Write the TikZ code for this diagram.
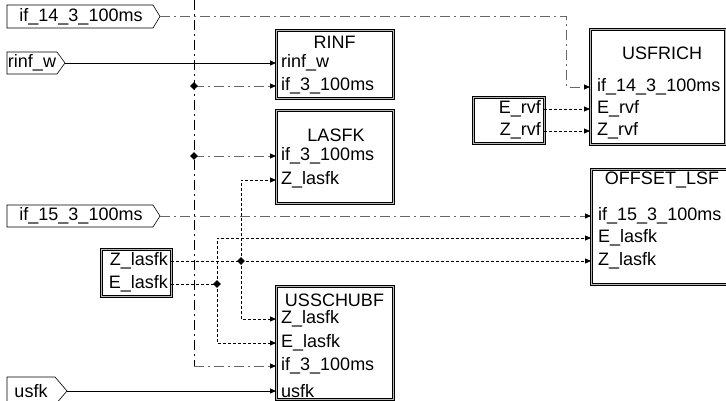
\documentclass[tikz,border=0pt]{standalone}
\usepackage{fontspec}
\setmainfont{Liberation Sans}
\usetikzlibrary{arrows.meta,shapes.geometric}
\begin{document}
\begin{tikzpicture}[x=1pt,y=-1pt,
  font=\fontsize{18}{21}\selectfont,
  ln/.style={line width=0.9pt},
  arr/.style={-{Triangle[length=6pt,width=5pt,color=black]}},
  ddv/.style={ln, black, dash pattern=on 10pt off 4pt on 2pt off 4pt},
  ddh/.style={ln, black!60, dash pattern=on 10pt off 4pt on 2pt off 4pt},
  dotl/.style={ln, dash pattern=on 3pt off 2pt},
  blk/.style={draw=black, line width=0.7pt, double=gray!55, double distance=1.4pt, anchor=north west, inner sep=0pt, fill=white},
  pl/.style={anchor=west, inner xsep=5pt, inner ysep=0pt},
  sl/.style={anchor=east, inner xsep=3pt, inner ysep=0pt},
  inport/.style={draw=black, line width=0.6pt, fill=white},
  junc/.style={diamond, fill=black, inner sep=0pt, minimum size=8pt},
]
\useasboundingbox (0,0) rectangle (726,401);

% ---- blocks ----
\node[blk, minimum width=117pt, minimum height=68pt] (rinf) at (276,30) {};
\node (rinfT) at (334.5,42) {RINF};
\node[pl] (rinf1) at (276,63) {rinf\_w};
\node[pl] (rinf2) at (276,86) {if\_3\_100ms};

\node[blk, minimum width=117pt, minimum height=93pt] (las) at (276,110) {};
\node (lasT) at (336,135) {LASFK};
\node[pl] (las1) at (276,156) {if\_3\_100ms};
\node[pl] (las2) at (276,180) {Z\_lasfk};

\node[blk, minimum width=117pt, minimum height=113pt] (uss) at (276,286) {};
\node (ussT) at (334.5,300) {USSCHUBF};
\node[pl] (uss1) at (276,319) {Z\_lasfk};
\node[pl] (uss2) at (276,343) {E\_lasfk};
\node[pl] (uss3) at (276,366) {if\_3\_100ms};
\node[pl] (uss4) at (276,391) {usfk};

\node[blk, minimum width=135pt, minimum height=115pt] (usf) at (590,29) {};
\node (usfT) at (662,53) {USFRICH};
\node[pl, inner xsep=7pt] (usf1) at (590,87) {if\_14\_3\_100ms};
\node[pl, inner xsep=7pt] (usf2) at (590,109) {E\_rvf};
\node[pl, inner xsep=7pt] (usf3) at (590,131) {Z\_rvf};

\node[blk, minimum width=145pt, minimum height=115pt] (off) at (591,169) {};
\node (offT) at (662,180) {OFFSET\_LSF};
\node[pl, inner xsep=7pt] (off1) at (591,216) {if\_15\_3\_100ms};
\node[pl, inner xsep=7pt] (off2) at (591,238) {E\_lasfk};
\node[pl, inner xsep=7pt] (off3) at (591,261) {Z\_lasfk};

% ---- source boxes ----
\node[blk, minimum width=71pt, minimum height=46pt] (rvfbox) at (473,97) {};
\node[sl] (erv) at (544,109) {E\_rvf};
\node[sl] (zrv) at (544,131) {Z\_rvf};

\node[blk, minimum width=70pt, minimum height=47pt] (lasbox) at (101,249) {};
\node[sl] (zl) at (171,261) {Z\_lasfk};
\node[sl] (el) at (171,284) {E\_lasfk};

% ---- input ports ----
\draw[inport] (7,5) -- (153,5) -- (160,16.5) -- (153,28) -- (7,28) -- cycle;
\node (p14) at (81,16.5) {if\_14\_3\_100ms};
\coordinate (p14t) at (160,16.5);

\draw[inport] (7,52) -- (57,52) -- (65,63) -- (57,74) -- (7,74) -- cycle;
\node (prinf) at (32,63) {rinf\_w};
\coordinate (prinft) at (65,63);

\draw[inport] (7,205) -- (153,205) -- (160,216) -- (153,227) -- (7,227) -- cycle;
\node (p15) at (81,216) {if\_15\_3\_100ms};
\coordinate (p15t) at (160,216);

\draw[inport] (7,377) -- (55,377) -- (67,391) -- (55,405) -- (7,405) -- cycle;
\node (pusfk) at (31,391) {usfk};
\coordinate (pusfkt) at (67,391);

% ---- helper coordinates ----
\coordinate (vtop) at (194,0);
\coordinate (vbot) at (194,366);
\coordinate (j1) at (194,86);
\coordinate (j2) at (194,156);
\coordinate (b14) at (566,16.5);
\coordinate (jz) at (241,261);
\coordinate (je) at (217,284);

% ---- connectors ----
\draw[ddh,arr] (p14t) -- (b14) |- (usf1.west);
\draw[ln,arr] (prinft) -- (rinf1.west);
\draw[ddh,arr] (p15t) -- (off1.west);
\draw[ln,arr] (pusfkt) -- (uss4.west);

\draw[ddv] (vtop) -- (vbot);
\draw[ddh,arr] (vbot) -- (uss3.west);
\draw[ddh,arr] (j1) -- (rinf2.west);
\draw[ddh,arr] (j2) -- (las1.west);

\draw[dotl,arr] (erv.east) -- (usf2.west);
\draw[dotl,arr] (zrv.east) -- (usf3.west);

\draw[dotl,arr] (zl.east) -- (off3.west);
\draw[dotl,arr] (jz) |- (las2.west);
\draw[dotl,arr] (jz) |- (uss1.west);

\draw[dotl] (el.east) -- (je);
\draw[dotl,arr] (je) |- (off2.west);
\draw[dotl,arr] (je) |- (uss2.west);

% ---- junctions ----
\node[junc] (d1) at (j1) {};
\node[junc] (d2) at (j2) {};
\node[junc] (dz) at (jz) {};
\node[junc] (de) at (je) {};
\end{tikzpicture}
\end{document}
